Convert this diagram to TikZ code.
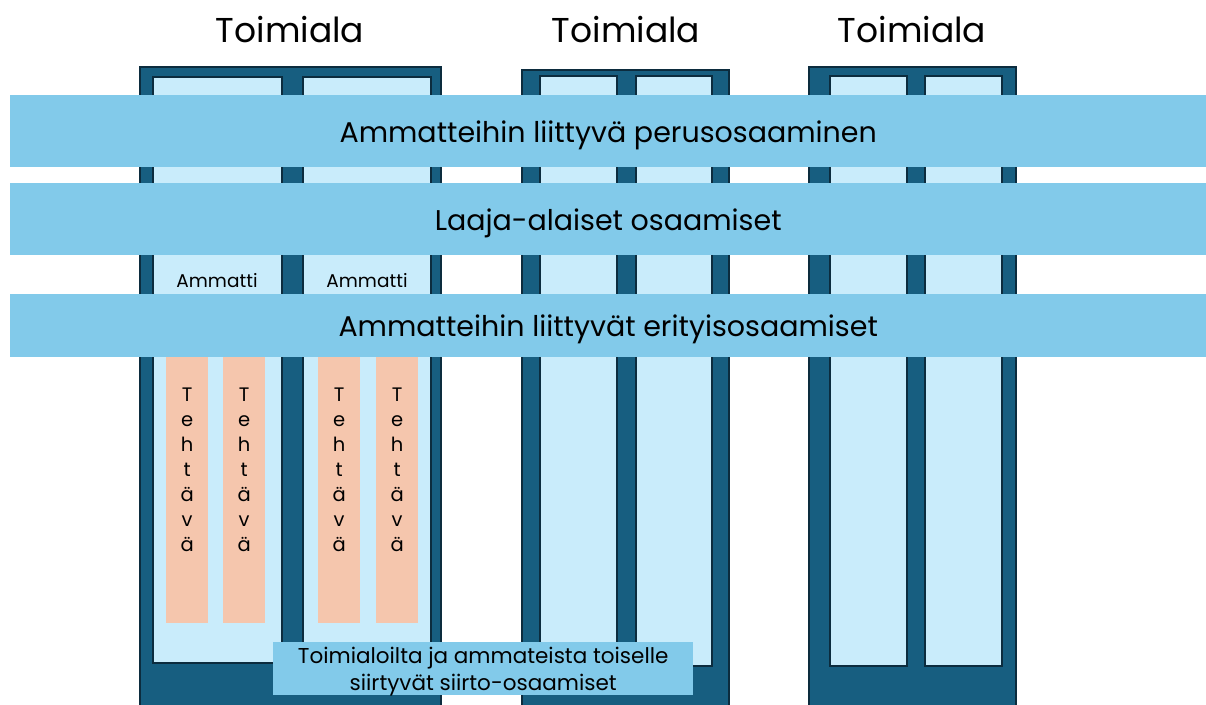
\documentclass[tikz,border=0pt]{standalone}
\usepackage{fontspec}
\setmainfont{Poppins}
\usetikzlibrary{positioning}
\definecolor{tkDark}{RGB}{23,94,128}
\definecolor{tkEdge}{RGB}{12,44,62}
\definecolor{tkCell}{RGB}{201,236,251}
\definecolor{tkBand}{RGB}{130,202,234}
\definecolor{tkTask}{RGB}{245,198,173}
\begin{document}
\begin{tikzpicture}[
  x=1pt, y=-1pt,
  col/.style={draw=tkEdge, line width=2pt, fill=tkDark},
  cell/.style={draw=tkEdge, line width=2.5pt, fill=tkCell},
  band/.style={fill=tkBand, inner sep=0pt, anchor=north west, text depth=0pt, font=\fontsize{28.5}{34}\selectfont},
  task/.style={fill=tkTask, inner sep=0pt, anchor=north west, minimum width=42pt, minimum height=266pt},
  title/.style={font=\fontsize{34.5}{40}\selectfont},
]
\clip (0,0) rectangle (1206,704);
\fill[white] (0,0) rectangle (1206,704);
% toimialat
\node[title] (t1) at (290,30) {Toimiala};
\node[title] (t2) at (626,30) {Toimiala};
\node[title] (t3) at (912,30) {Toimiala};
\foreach \l/\r/\t in {140/441/67, 522/729/70, 809/1016/67}
  \draw[col] (\l,\t) rectangle (\r,720);
% ammatit
\foreach \l/\r/\t/\b in {153/282/77/663, 303/431/77/663, 540/617/76/666,
    636/712/76/666, 830/907/76/666, 925/1002/76/666}
  \draw[cell] (\l,\t) rectangle (\r,\b);
\node[font=\fontsize{18.5}{22}\selectfont] (a1) at (217,281) {Ammatti};
\node[font=\fontsize{18.5}{22}\selectfont] (a2) at (367,281) {Ammatti};
% osaamiset
\node[band, minimum width=1196pt, minimum height=72pt] (b1) at (10,95) {Ammatteihin liittyvä perusosaaminen};
\node[band, minimum width=1196pt, minimum height=72pt] (b2) at (10,183) {Laaja-alaiset osaamiset};
\node[band, minimum width=1196pt, minimum height=63pt] (b3) at (10,294) {Ammatteihin liittyvät erityisosaamiset};
% tehtävät
\foreach \x/\n in {166/k1, 223/k2, 318/k3, 376/k4} {
  \node[task] (\n) at (\x,357) {};
  \node[below=27pt of \n.north, align=center, font=\fontsize{19.5}{25}\selectfont] (\n txt) {T\\e\\h\\t\\ä\\v\\ä};
}
% siirto-osaamiset
\node[band, minimum width=420pt, minimum height=53pt, align=center, font=\fontsize{21.5}{26.5}\selectfont] (s1) at (273,642) {Toimialoilta ja ammateista toiselle\\siirtyvät siirto-osaamiset};
\end{tikzpicture}
\end{document}
